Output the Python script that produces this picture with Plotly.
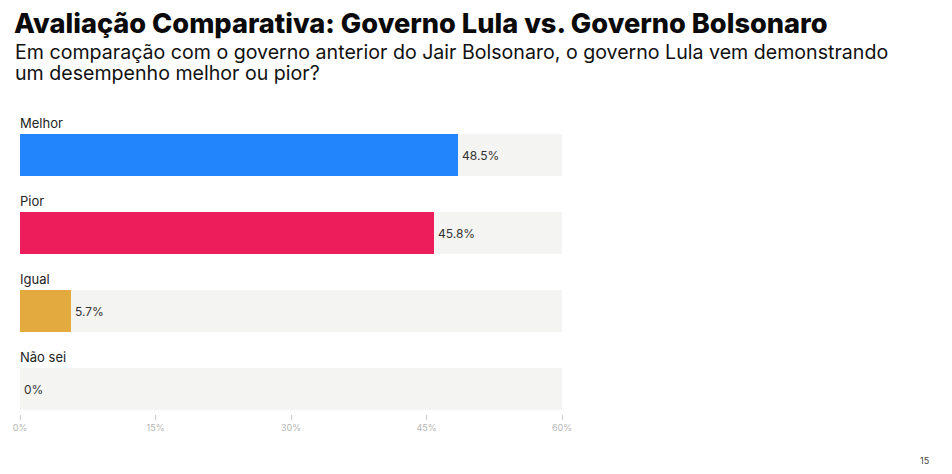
import plotly.graph_objects as go

categories = ["Melhor", "Pior", "Igual", "Não sei"]
values = [48.5, 45.8, 5.7, 0.0]
colors = ["#2385fb", "#ec1d5a", "#e3ab3f", "#e3ab3f"]
tick_vals = [0, 15, 30, 45, 60]
tick_text = ["0%", "15%", "30%", "45%", "60%"]
axis_max = 60

title_text = "Avaliação Comparativa: Governo Lula vs. Governo Bolsonaro"
subtitle_lines = ["Em comparação com o governo anterior do Jair Bolsonaro, o governo Lula vem demonstrando",
                  "um desempenho melhor ou pior?"]
page_number = "15"

W, H = 952, 474
L, R_ = 20, 562
T, B = 110, 414
pitch = 78.0
first_center = 155.0
pw = R_ - L
ph = B - T

ypos = list(range(len(categories)))
y_top = (T - first_center) / pitch
y_bot = (B - first_center) / pitch
bar_w = 42 / pitch

fig = go.Figure()
fig.add_trace(go.Bar(
    x=[axis_max] * len(categories), y=ypos, orientation="h",
    marker=dict(color="#f4f4f2", line=dict(width=0)), width=bar_w,
    hoverinfo="skip", showlegend=False))
fig.add_trace(go.Bar(
    x=values, y=ypos, orientation="h",
    marker=dict(color=colors, line=dict(width=0)), width=bar_w,
    showlegend=False))

ann = []
for i, (c, v) in enumerate(zip(categories, values)):
    ann.append(dict(x=0, xref="paper", y=i - 32 / pitch, yref="y", text=c,
                    xanchor="left", yanchor="middle", showarrow=False, xshift=-2,
                    font=dict(family="Inter", size=13, color="#222222")))
    ann.append(dict(x=v, xref="x", y=i, yref="y", text=f"{v:g}%",
                    xanchor="left", yanchor="middle", showarrow=False, xshift=2,
                    font=dict(family="Inter", size=12, color="#333333")))

for k, line in enumerate(subtitle_lines):
    ann.append(dict(x=(15 - L) / pw, xref="paper", y=(B - (52 + 21 * k)) / ph, yref="paper",
                    text=line, xanchor="left", yanchor="middle", align="left",
                    showarrow=False, xshift=-2,
                    font=dict(family="Inter", size=19.6, color="#111111")))
ann.append(dict(x=(931 - L) / pw, xref="paper", y=(B - 460) / ph, yref="paper",
                text=page_number, xanchor="right", yanchor="middle", showarrow=False,
                font=dict(family="Inter", size=9, color="#444444")))

fig.update_layout(
    width=W, height=H,
    margin=dict(l=L, r=W - R_, t=T, b=H - B, pad=0),
    paper_bgcolor="white", plot_bgcolor="white",
    barmode="overlay", bargap=0,
    title=dict(text=title_text, xref="container", yref="container",
               x=14 / W, y=1 - 23 / H, xanchor="left", yanchor="middle",
               font=dict(family="Inter", size=27.2, weight=800, color="#0a0a0a")),
    xaxis=dict(range=[0, axis_max], tickvals=tick_vals, ticktext=tick_text,
               showgrid=False, zeroline=False, showline=False,
               ticks="outside", ticklen=5, tickcolor="#cccccc", tickwidth=1,
               tickfont=dict(family="Inter", size=9, color="#b5b5b5"),
               fixedrange=True),
    yaxis=dict(range=[y_bot, y_top], showticklabels=False, showgrid=False,
               zeroline=False, showline=False, fixedrange=True),
    annotations=ann,
)

fig.write_html("out.html")
